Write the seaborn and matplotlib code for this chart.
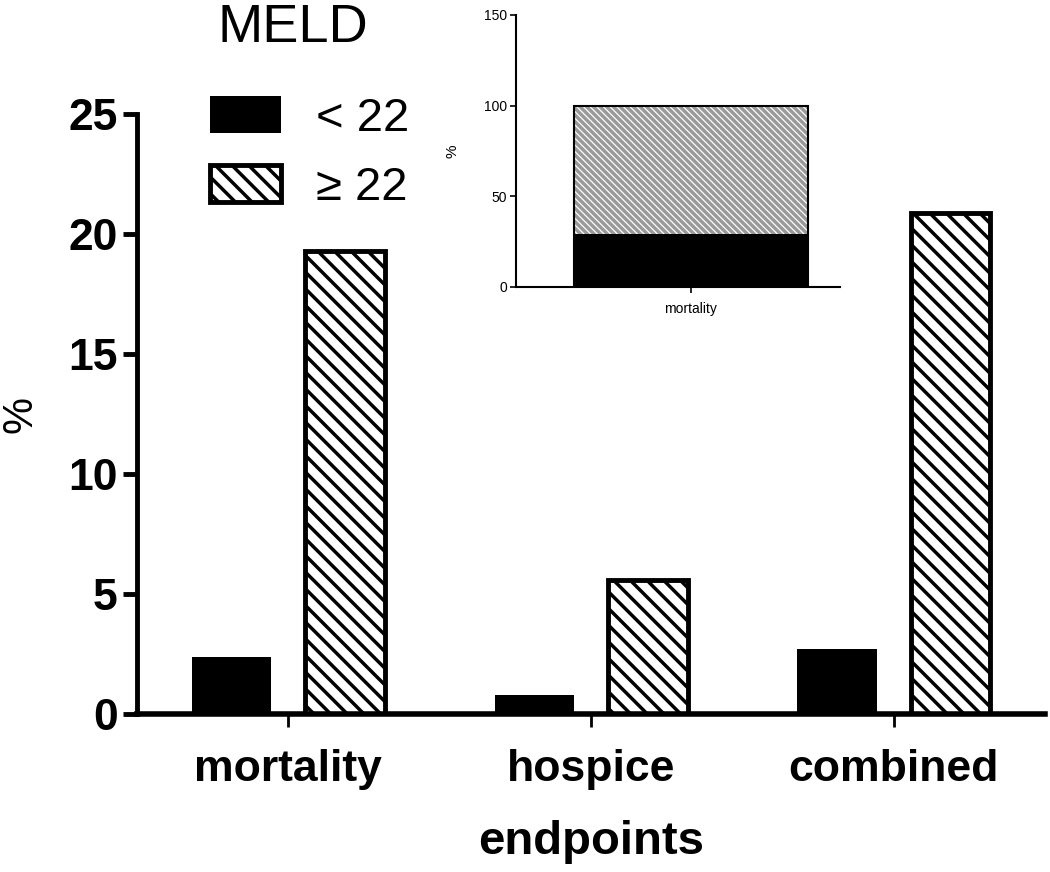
import seaborn as sns
import pandas as pd
import matplotlib.pyplot as plt

# main chart
endpoints = ["mortality", "hospice", "combined"]
meld_low = [2.4, 0.8, 2.7]     # MELD < 22
meld_high = [19.3, 5.6, 20.9]  # MELD >= 22
groups = ["< 22", "\u2265 22"]

# inset (stacked mortality)
inset_cat = ["mortality"]
inset_low = [29]
inset_total = [100]

sns.set_style("ticks")
plt.rcParams['font.family'] = ['Liberation Sans', 'DejaVu Sans']
plt.rcParams['hatch.linewidth'] = 2.5
for k in ['text.color', 'axes.labelcolor', 'xtick.color', 'ytick.color', 'axes.edgecolor']:
    plt.rcParams[k] = 'black'

df = pd.DataFrame({
    'endpoint': endpoints * 2,
    'pct': meld_low + meld_high,
    'MELD': [groups[0]] * 3 + [groups[1]] * 3,
})

fig = plt.figure(figsize=(10.5, 8.72), dpi=100)
ax = fig.add_axes([0.1305, 0.181, 0.865, 0.688])
sns.barplot(data=df, x='endpoint', y='pct', hue='MELD', palette=['black', 'white'],
            width=0.75, gap=0.3, legend=False, ax=ax)
for bar in ax.containers[0]:
    bar.set_linewidth(0)
for bar in ax.containers[1]:
    bar.set_hatch('\\\\')
    bar.set_edgecolor('black')
    bar.set_linewidth(3.5)

ax.set_ylim(0, 25)
ax.set_xlim(-0.5, 2.5)
ax.set_yticks([0, 5, 10, 15, 20, 25])
for s in ['top', 'right']:
    ax.spines[s].set_visible(False)
ax.spines['left'].set_linewidth(3.5)
ax.spines['bottom'].set_linewidth(4)
ax.tick_params(axis='y', length=10, width=3.5, labelsize=32, pad=4)
ax.tick_params(axis='x', length=9, width=2, labelsize=32, pad=16)
for lab in ax.get_xticklabels() + ax.get_yticklabels():
    lab.set_fontweight('bold')
ax.set_xlabel('endpoints', fontsize=34, fontweight='bold', labelpad=22)
ax.set_ylabel('%', fontsize=30, labelpad=20)

fig.text(217 / 1050, 1 - 3 / 872, 'MELD', fontsize=39, ha='left', va='top')
handles = [ax.containers[0][0], ax.containers[1][0]]
leg = ax.legend(handles, groups, loc='upper left',
                bbox_to_anchor=(205 / 1050, 1 - 91 / 872), bbox_transform=fig.transFigure,
                frameon=False, fontsize=34, borderaxespad=0,
                handlelength=1.5, handleheight=0.85, handletextpad=0.75,
                labelspacing=0.5, borderpad=0.1)

# inset
ins = fig.add_axes([0.491, 0.671, 0.309, 0.312])
sns.barplot(x=inset_cat, y=inset_total, color='white', width=0.8, ax=ins)
sns.barplot(x=inset_cat, y=inset_low, color='black', width=0.8, ax=ins)
top = ins.containers[0][0]
with plt.rc_context({'hatch.linewidth': 0.9}):
    top.set_hatch('\\\\\\\\\\')
top.set_edgecolor('#9a9a9a')
top.set_linewidth(0)
sns.barplot(x=inset_cat, y=inset_total, fill=False, width=0.8, ax=ins)
ins.containers[2][0].set_edgecolor('black')
ins.containers[2][0].set_linewidth(1.5)
ins.containers[1][0].set_linewidth(0)
ins.set_ylim(0, 150)
ins.set_xlim(-0.6, 0.51)
ins.set_yticks([0, 50, 100, 150])
ins.patch.set_alpha(0)
for s in ['top', 'right']:
    ins.spines[s].set_visible(False)
ins.spines['left'].set_linewidth(1.5)
ins.spines['bottom'].set_linewidth(1.5)
ins.tick_params(axis='both', length=4, width=1.2, labelsize=10, pad=2)
ins.tick_params(axis='x', pad=7)
ins.set_ylabel('%', fontsize=11, labelpad=18)
ins.set_xlabel('')

fig.savefig('out.png', dpi=100)
